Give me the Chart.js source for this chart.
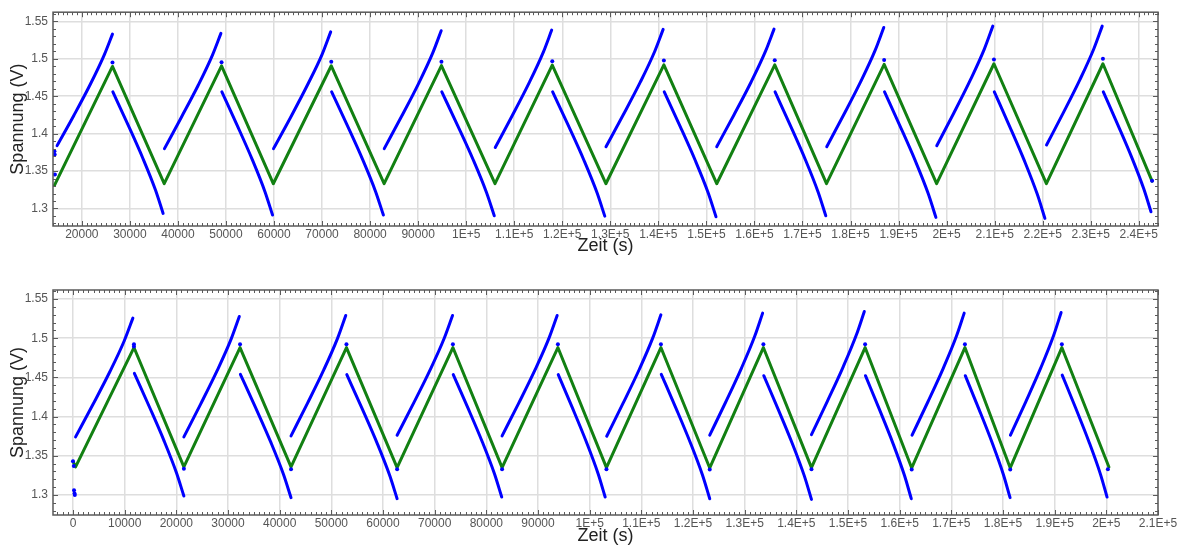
<!DOCTYPE html>
<html><head><meta charset="utf-8">
<script src="https://cdn.jsdelivr.net/npm/chart.js@4.4.1/dist/chart.umd.min.js"></script>
<style>
html,body{margin:0;padding:0;background:#fff;overflow:hidden;}
canvas{position:absolute;left:0;}
#c1{top:0;}
#c2{top:270px;}
</style></head><body>
<canvas id="c1" width="1179" height="270"></canvas>
<canvas id="c2" width="1179" height="278"></canvas>
<script>
// ---------- tick labels ----------
const topXTicks = [20000,30000,40000,50000,60000,70000,80000,90000,100000,110000,120000,130000,140000,150000,160000,170000,180000,190000,200000,210000,220000,230000,240000];
const topXLabels = ['20000','30000','40000','50000','60000','70000','80000','90000','1E+5','1.1E+5','1.2E+5','1.3E+5','1.4E+5','1.5E+5','1.6E+5','1.7E+5','1.8E+5','1.9E+5','2E+5','2.1E+5','2.2E+5','2.3E+5','2.4E+5'];
const bottomXTicks = [0,10000,20000,30000,40000,50000,60000,70000,80000,90000,100000,110000,120000,130000,140000,150000,160000,170000,180000,190000,200000,210000];
const bottomXLabels = ['0','10000','20000','30000','40000','50000','60000','70000','80000','90000','1E+5','1.1E+5','1.2E+5','1.3E+5','1.4E+5','1.5E+5','1.6E+5','1.7E+5','1.8E+5','1.9E+5','2E+5','2.1E+5'];
const yTicks = [1.3,1.35,1.4,1.45,1.5,1.55];
const yLabels = ['1.3','1.35','1.4','1.45','1.5','1.55'];
const xTitle = 'Zeit (s)';
const yTitle = 'Spannung (V)';

// ---------- top chart series ----------
const topGreen = [[14300,1.331],[26380,1.4898],[37150,1.3331],[49080,1.4907],[59850,1.3331],[71920,1.4907],[82920,1.3331],[94850,1.4910],[106000,1.3331],[117920,1.4915],[129080,1.3331],[141150,1.4920],[152150,1.3331],[164230,1.4920],[175000,1.3331],[187000,1.4925],[197920,1.3331],[209850,1.4934],[220770,1.3331],[232540,1.4934],[242770,1.3366]];
const topBlueCharge = [
  [[14850,1.384],[18310,1.424],[21770,1.466],[24650,1.505],[26380,1.533]],
  [[37200,1.380],[40725,1.422],[44250,1.465],[47190,1.505],[48950,1.534]],
  [[59900,1.380],[63470,1.422],[67040,1.466],[70015,1.506],[71800,1.536]],
  [[82950,1.380],[86505,1.4225],[90060,1.4666],[93023,1.5076],[94800,1.5375]],
  [[106050,1.3816],[109575,1.4239],[113100,1.4678],[116038,1.5086],[117800,1.5384]],
  [[129100,1.3826],[132670,1.4249],[136240,1.4688],[139215,1.5095],[141000,1.5393]],
  [[152150,1.3826],[155730,1.4250],[159310,1.4690],[162290,1.5099],[164080,1.5397]],
  [[175050,1.3826],[178610,1.4256],[182170,1.4702],[185140,1.5116],[186920,1.5419]],
  [[197950,1.3839],[201450,1.4270],[204950,1.4718],[207870,1.5133],[209620,1.5437]],
  [[220800,1.3848],[224280,1.4277],[227750,1.4722],[230650,1.5135],[232390,1.5437]]
];
const topBlueDischarge = [
  [[26460,1.4558],[29600,1.4120],[32740,1.3665],[35350,1.3243],[36920,1.2934]],
  [[49150,1.4558],[52315,1.4114],[55480,1.3653],[58118,1.3225],[59700,1.2912]],
  [[72000,1.4558],[75230,1.4114],[78460,1.3653],[81155,1.3225],[82770,1.2912]],
  [[94930,1.4558],[98206,1.4111],[101482,1.3648],[104212,1.3217],[105850,1.2903]],
  [[118000,1.4558],[121255,1.4110],[124510,1.3645],[127223,1.3213],[128850,1.2898]],
  [[141230,1.4558],[144461,1.4108],[147692,1.3641],[150385,1.3207],[152000,1.2890]],
  [[164300,1.4558],[167465,1.4111],[170630,1.3648],[173268,1.3217],[174850,1.2903]],
  [[187080,1.4558],[190287,1.4105],[193494,1.3636],[196167,1.3200],[197770,1.2881]],
  [[209930,1.4558],[213089,1.4102],[216248,1.3629],[218881,1.3189],[220460,1.2868]],
  [[232620,1.4558],[235596,1.4125],[238572,1.3677],[241052,1.3260],[242540,1.2956]]
];
const topBlueDots = [[14300,1.3765],[14350,1.372],[14400,1.3455],[26380,1.4951],[49080,1.4955],[71920,1.4960],[94850,1.4962],[117920,1.4968],[141150,1.4978],[164230,1.4980],[187000,1.4985],[209850,1.4990],[232540,1.5000],[242770,1.3370]];

// ---------- bottom chart series ----------
const bottomGreen = [[0,1.343],[500,1.3358],[11800,1.4881],[21460,1.3358],[32330,1.4881],[42200,1.3358],[52930,1.4881],[62730,1.3350],[73530,1.4881],[83050,1.3350],[93850,1.4881],[103250,1.3350],[113790,1.4881],[123240,1.3345],[133620,1.4881],[142930,1.3350],[153310,1.4881],[162330,1.3345],[172630,1.4881],[181400,1.3345],[191390,1.4881],[200500,1.3358]];
const bottomBlueCharge = [
  [[500,1.3742],[3827,1.4151],[7154,1.4575],[9927,1.4968],[11590,1.5256]],
  [[21460,1.3742],[24679,1.4156],[27898,1.4586],[30581,1.4985],[32190,1.5277]],
  [[42200,1.3755],[45377,1.4169],[48554,1.4599],[51202,1.4998],[52790,1.5290]],
  [[62730,1.3763],[65949,1.4175],[69168,1.4603],[71851,1.5000],[73460,1.5290]],
  [[83050,1.3755],[86248,1.4169],[89446,1.4599],[92111,1.4998],[93710,1.5290]],
  [[103300,1.3750],[106447,1.4168],[109594,1.4601],[112217,1.5004],[113790,1.5298]],
  [[123240,1.3763],[126312,1.4183],[129384,1.4619],[131944,1.5024],[133480,1.5320]],
  [[142930,1.3771],[145999,1.4195],[149068,1.4635],[151626,1.5043],[153160,1.5341]],
  [[162400,1.3763],[165427,1.4183],[168454,1.4619],[170977,1.5024],[172490,1.5320]],
  [[181440,1.3763],[184383,1.4186],[187326,1.4624],[189779,1.5031],[191250,1.5328]]
];
const bottomBlueDischarge = [
  [[11880,1.4552],[14754,1.4129],[17628,1.3691],[20023,1.3284],[21460,1.2987]],
  [[32400,1.4540],[35340,1.4115],[38280,1.3674],[40730,1.3265],[42200,1.2966]],
  [[53000,1.4535],[55919,1.4108],[58838,1.3665],[61271,1.3254],[62730,1.2953]],
  [[73600,1.4535],[76414,1.4114],[79228,1.3676],[81573,1.3271],[82980,1.2974]],
  [[93920,1.4535],[96644,1.4114],[99368,1.3676],[101638,1.3271],[103000,1.2974]],
  [[113860,1.4540],[116674,1.4112],[119488,1.3667],[121833,1.3255],[123240,1.2953]],
  [[133700,1.4522],[136469,1.4096],[139238,1.3654],[141546,1.3244],[142930,1.2944]],
  [[153380,1.4522],[156041,1.4098],[158702,1.3659],[160920,1.3251],[162250,1.2953]],
  [[172700,1.4522],[175301,1.4102],[177902,1.3666],[180070,1.3262],[181370,1.2966]],
  [[191460,1.4530],[194064,1.4110],[196668,1.3674],[198838,1.3270],[200140,1.2974]]
];
const bottomBlueDots = [[0,1.343],[150,1.337],[200,1.306],[300,1.302],[350,1.300],[11800,1.4923],[11800,1.4895],[32330,1.4923],[52930,1.4923],[73530,1.4923],[93850,1.4923],[113790,1.4923],[133620,1.4923],[153310,1.4923],[172630,1.4923],[191390,1.4923],[21460,1.3335],[42200,1.3330],[62730,1.3328],[83050,1.3328],[103250,1.3328],[123240,1.3325],[142930,1.3328],[162330,1.3325],[181400,1.3325],[200300,1.3330]];

// ---------- styling / building ----------
const BLUE = 'rgb(0,0,255)';
const GREEN = 'rgb(18,128,18)';
const FONT = "'Liberation Sans', Arial, sans-serif";

const framePlugin = {
  id: 'frame',
  afterDatasetsDraw(chart) {
    const {ctx, chartArea: a, scales: {x, y}} = chart;
    ctx.save();
    ctx.strokeStyle = '#5a5a5a';
    ctx.lineWidth = 1;
    ctx.beginPath();
    for (let v = Math.ceil(x.min / 1000) * 1000; v <= x.max; v += 1000) {
      const px = Math.round(x.getPixelForValue(v)) + 0.5;
      const len = (Math.abs(v) % 10000 === 0) ? 5 : 3;
      ctx.moveTo(px, a.bottom); ctx.lineTo(px, a.bottom - len);
      ctx.moveTo(px, a.top); ctx.lineTo(px, a.top + len);
    }
    for (let k = Math.ceil(y.min * 100); k <= y.max * 100; k++) {
      const py = Math.round(y.getPixelForValue(k / 100)) + 0.5;
      const len = (k % 5 === 0) ? 5 : 3;
      ctx.moveTo(a.left, py); ctx.lineTo(a.left + len, py);
      ctx.moveTo(a.right, py); ctx.lineTo(a.right - len, py);
    }
    ctx.stroke();
    ctx.lineWidth = 1.5;
    ctx.strokeRect(a.left, a.top, a.right - a.left, a.bottom - a.top);
    ctx.restore();
  }
};

function pts(arr) { return arr.map(p => ({x: p[0], y: p[1]})); }

function makeChart(id, cfg) {
  const datasets = [];
  cfg.charge.concat(cfg.discharge).forEach(seg => datasets.push({
    data: pts(seg), showLine: true, borderColor: BLUE, borderWidth: 3,
    pointRadius: 0, borderCapStyle: 'round', borderJoinStyle: 'round',
    cubicInterpolationMode: 'monotone', order: 0
  }));
  datasets.push({data: pts(cfg.dots), showLine: false, pointRadius: 2, pointBackgroundColor: BLUE, pointBorderWidth: 0, order: 0});
  datasets.push({data: pts(cfg.green), showLine: true, borderColor: GREEN, borderWidth: 3, pointRadius: 0,
    borderCapStyle: 'round', borderJoinStyle: 'round', order: 1});
  return new Chart(document.getElementById(id), {
    type: 'scatter',
    data: {datasets},
    options: {
      responsive: false, animation: false,
      layout: {padding: {left: 0, top: cfg.padTop, right: 21, bottom: 0}},
      plugins: {legend: {display: false}, tooltip: {enabled: false}},
      scales: {
        x: {
          type: 'linear', min: cfg.xMin, max: cfg.xMax,
          afterBuildTicks: s => { s.ticks = cfg.xTicks.map(v => ({value: v})); },
          afterFit: s => { s.height = cfg.xHeight; },
          ticks: {autoSkip: false, maxRotation: 0, padding: 1, color: '#555', font: {family: FONT, size: 12},
            callback: v => cfg.xLabels[cfg.xTicks.indexOf(v)]},
          grid: {color: '#dedede', lineWidth: 1.5, drawTicks: false},
          border: {display: false},
          title: {display: true, text: xTitle, color: '#222', font: {family: FONT, size: 18},
            padding: {top: 0, bottom: cfg.xTitlePad}}
        },
        y: {
          type: 'linear', min: cfg.yMin, max: cfg.yMax,
          afterBuildTicks: s => { s.ticks = yTicks.map(v => ({value: v})); },
          afterFit: s => { s.width = 53; },
          ticks: {padding: 5, color: '#555', font: {family: FONT, size: 12},
            callback: v => yLabels[yTicks.indexOf(v)]},
          grid: {color: '#dedede', lineWidth: 1.5, drawTicks: false},
          border: {display: false},
          title: {display: true, text: yTitle, color: '#222', font: {family: FONT, size: 18},
            padding: {top: 7, bottom: 0}}
        }
      }
    },
    plugins: [framePlugin]
  });
}

makeChart('c1', {
  charge: topBlueCharge, discharge: topBlueDischarge, dots: topBlueDots, green: topGreen,
  xTicks: topXTicks, xLabels: topXLabels, xMin: 14000, xMax: 244000,
  yMin: 1.2766, yMax: 1.5623, padTop: 10, xHeight: 44, xTitlePad: 13
});
makeChart('c2', {
  charge: bottomBlueCharge, discharge: bottomBlueDischarge, dots: bottomBlueDots, green: bottomGreen,
  xTicks: bottomXTicks, xLabels: bottomXLabels, xMin: -3870, xMax: 210000,
  yMin: 1.2745, yMax: 1.5615, padTop: 20, xHeight: 33, xTitlePad: 1
});
</script>
</body></html>
